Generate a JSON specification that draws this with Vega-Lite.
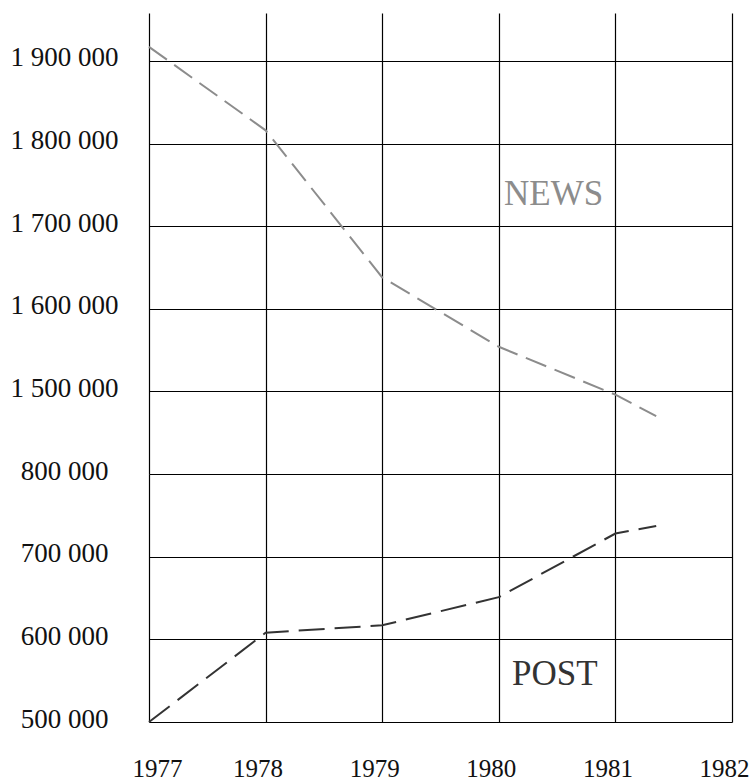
{
  "$schema": "https://vega.github.io/schema/vega-lite/v6.json",
  "background": "white",
  "padding": {"left": 10, "top": 13, "right": 19, "bottom": 0},
  "spacing": 0,
  "bounds": "flush",
  "config": {
    "view": {"stroke": null},
    "axis": {
      "labelFont": "Liberation Serif",
      "labelColor": "#111",
      "gridColor": "#000",
      "gridWidth": 1.2,
      "gridOpacity": 1,
      "ticks": false,
      "domain": false,
      "title": null,
      "labelFlush": false,
      "labelOverlap": false,
      "labelBound": false
    }
  },
  "datasets": {
    "lines": [
      {"series": "NEWS", "year": 1977, "value": 1917000},
      {"series": "NEWS", "year": 1978, "value": 1816000},
      {"series": "NEWS", "year": 1979, "value": 1638000},
      {"series": "NEWS", "year": 1980, "value": 1554000},
      {"series": "NEWS", "year": 1981, "value": 1496000},
      {"series": "NEWS", "year": 1981.35, "value": 1470000},
      {"series": "POST", "year": 1977, "value": 500000},
      {"series": "POST", "year": 1978, "value": 608000},
      {"series": "POST", "year": 1979, "value": 617000},
      {"series": "POST", "year": 1980, "value": 651000},
      {"series": "POST", "year": 1981, "value": 728000},
      {"series": "POST", "year": 1981.35, "value": 737000}
    ],
    "labels": [
      {"series": "NEWS", "year": 1980.47, "value": 1726000},
      {"series": "POST", "year": 1980.48, "value": 545000}
    ]
  },
  "vconcat": [
    {
      "width": 583,
      "height": 461,
      "layer": [
        {
          "data": {"name": "lines"},
          "transform": [{"filter": "datum.series == 'NEWS'"}],
          "mark": {"type": "line", "color": "#8c8c8c", "strokeWidth": 2, "strokeDash": [22, 9]},
          "encoding": {
            "x": {
              "field": "year", "type": "quantitative",
              "scale": {"domain": [1977, 1982], "nice": false, "zero": false},
              "axis": {"values": [1977, 1978, 1979, 1980, 1981, 1982], "labels": false, "grid": true, "minExtent": 0, "maxExtent": 0, "offset": 0, "labelPadding": 0}
            },
            "y": {
              "field": "value", "type": "quantitative",
              "scale": {"domain": [1400000, 1958000], "nice": false, "zero": false},
              "axis": {
                "values": [1500000, 1600000, 1700000, 1800000, 1900000],
                "grid": true,
                "labelExpr": "replace(replace(format(datum.value, ','), ',', ' '), ',', ' ')",
                "labelFontSize": 27,
                "labelAlign": "center",
                "labelPadding": 85,
                "labelOffset": -3
              }
            }
          }
        },
        {
          "data": {"name": "labels"},
          "transform": [{"filter": "datum.series == 'NEWS'"}],
          "mark": {"type": "text", "font": "Liberation Serif", "fontSize": 35, "color": "#8c8c8c", "align": "center", "baseline": "alphabetic"},
          "encoding": {
            "x": {"field": "year", "type": "quantitative"},
            "y": {"field": "value", "type": "quantitative"},
            "text": {"field": "series"}
          }
        }
      ]
    },
    {
      "width": 583,
      "height": 248,
      "layer": [
        {
          "data": {"name": "lines"},
          "transform": [{"filter": "datum.series == 'POST'"}],
          "mark": {"type": "line", "color": "#333333", "strokeWidth": 2, "strokeDash": [26, 10]},
          "encoding": {
            "x": {
              "field": "year", "type": "quantitative",
              "scale": {"domain": [1977, 1982], "nice": false, "zero": false},
              "axis": {
                "values": [1977, 1978, 1979, 1980, 1981, 1982],
                "grid": true,
                "format": "d",
                "labelFontSize": 25,
                "labelPadding": 34,
                "labelBaseline": "top",
                "labelOffset": {"condition": {"test": "datum.value == 1977", "value": 8}, "value": -8}
              }
            },
            "y": {
              "field": "value", "type": "quantitative",
              "scale": {"domain": [500000, 800000], "nice": false, "zero": false},
              "axis": {
                "values": [500000, 600000, 700000, 800000],
                "grid": true,
                "labelExpr": "replace(replace(format(datum.value, ','), ',', ' '), ',', ' ')",
                "labelFontSize": 27,
                "labelAlign": "center",
                "labelPadding": 85,
                "labelOffset": -3
              }
            }
          }
        },
        {
          "data": {"name": "labels"},
          "transform": [{"filter": "datum.series == 'POST'"}],
          "mark": {"type": "text", "font": "Liberation Serif", "fontSize": 35, "color": "#333333", "align": "center", "baseline": "alphabetic"},
          "encoding": {
            "x": {"field": "year", "type": "quantitative"},
            "y": {"field": "value", "type": "quantitative"},
            "text": {"field": "series"}
          }
        }
      ]
    }
  ]
}
